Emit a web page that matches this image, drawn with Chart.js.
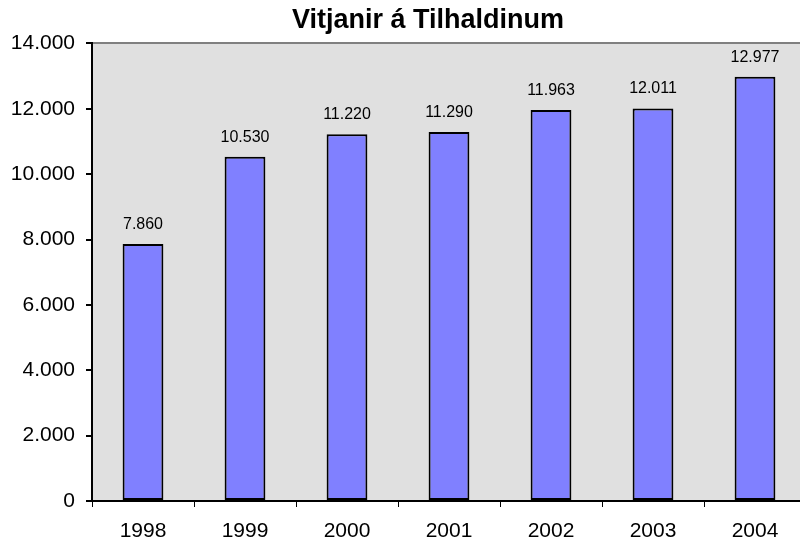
<!DOCTYPE html>
<html>
<head>
<meta charset="utf-8">
<script src="https://cdn.jsdelivr.net/npm/chart.js@4/dist/chart.umd.min.js"></script>
<style>
    html, body { margin: 0; padding: 0; overflow: hidden; background: #fff; }
    canvas { display: block; }
</style>
</head>
<body>
<canvas id="visitsChart" width="855" height="547"></canvas>
<script>
const years = ['1998', '1999', '2000', '2001', '2002', '2003', '2004'];
const visits = [7860, 10530, 11220, 11290, 11963, 12011, 12977];
const yTicks = [0, 2000, 4000, 6000, 8000, 10000, 12000, 14000];

const font = "'Liberation Sans', Arial, sans-serif";

// 12977 -> "12.977"
function fmt(v) {
    return String(v).replace(/\B(?=(\d{3})+(?!\d))/g, '.');
}

// grey plot background behind the bars
const plotBackground = {
    id: 'plotBackground',
    beforeDraw(chart) {
        const { ctx, chartArea } = chart;
        ctx.save();
        ctx.fillStyle = '#e0e0e0';
        ctx.fillRect(chartArea.left, chartArea.top, chartArea.right - chartArea.left, chartArea.bottom - chartArea.top);
        ctx.restore();
    }
};

// the original title sits a bit right of the canvas centre
const titleShift = {
    id: 'titleShift',
    afterLayout(chart) {
        if (chart.titleBlock) {
            chart.titleBlock.left += 20;
            chart.titleBlock.right += 20;
        }
    }
};

// value labels above each bar
const valueLabels = {
    id: 'valueLabels',
    afterDatasetsDraw(chart) {
        const { ctx } = chart;
        const meta = chart.getDatasetMeta(0);
        ctx.save();
        ctx.font = '16px ' + font;
        ctx.fillStyle = '#000';
        ctx.textAlign = 'center';
        ctx.textBaseline = 'alphabetic';
        meta.data.forEach((bar, i) => {
            ctx.fillText(fmt(chart.data.datasets[0].data[i]), bar.x, bar.y - 15);
        });
        ctx.restore();
    }
};

new Chart(document.getElementById('visitsChart').getContext('2d'), {
    type: 'bar',
    data: {
        labels: years,
        datasets: [{
            data: visits,
            backgroundColor: '#8080ff',
            borderColor: '#000',
            borderWidth: 2,
            borderSkipped: false,
            categoryPercentage: 1,
            barPercentage: 0.4
        }]
    },
    options: {
        responsive: false,
        animation: false,
        devicePixelRatio: 1,
        layout: {
            padding: { left: 10, right: 49, top: 0, bottom: -9 }
        },
        plugins: {
            legend: { display: false },
            tooltip: { enabled: false },
            title: {
                display: true,
                text: 'Vitjanir á Tilhaldinum',
                color: '#000',
                font: { family: font, size: 27, weight: 'bold' },
                padding: { top: 4, bottom: 7 }
            }
        },
        scales: {
            x: {
                grid: {
                    offset: true,
                    color: 'rgba(0,0,0,0)',
                    tickColor: '#000',
                    tickLength: 6
                },
                border: { color: '#000', width: 2 },
                ticks: {
                    color: '#000',
                    font: { family: font, size: 21, lineHeight: 1 },
                    padding: 14,
                    maxRotation: 0
                }
            },
            y: {
                min: 0,
                max: 14000,
                afterBuildTicks(scale) {
                    scale.ticks = yTicks.map(v => ({ value: v }));
                },
                afterFit(scale) {
                    scale.width = 82;
                },
                grid: {
                    color: ctx => (ctx.tick && ctx.tick.value === 14000 ? '#808080' : 'rgba(0,0,0,0)'),
                    lineWidth: 2,
                    tickColor: '#000',
                    tickLength: 6
                },
                border: { color: '#000', width: 2 },
                ticks: {
                    color: '#000',
                    font: { family: font, size: 21 },
                    padding: 11,
                    callback: v => fmt(v)
                }
            }
        }
    },
    plugins: [plotBackground, titleShift, valueLabels]
});
</script>
</body>
</html>
